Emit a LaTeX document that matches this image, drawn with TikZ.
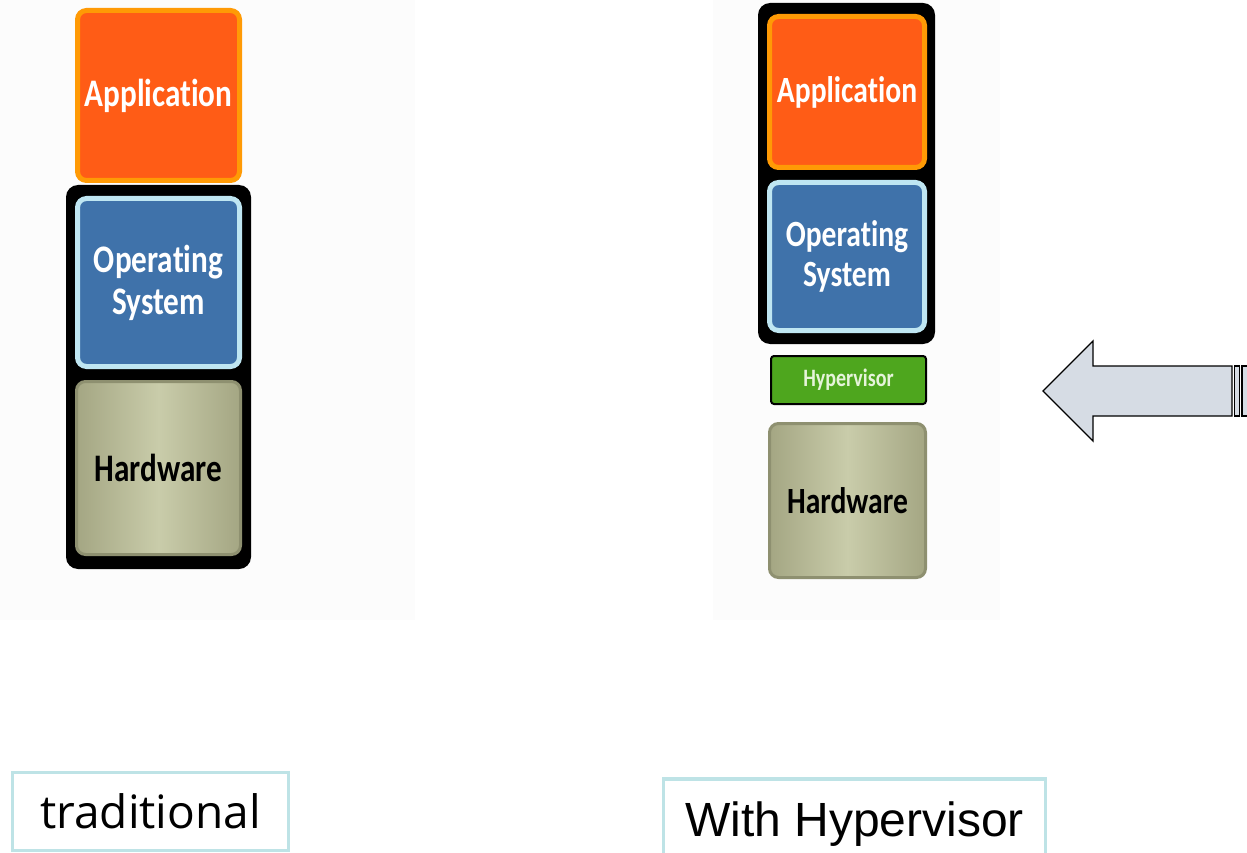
\documentclass[tikz,border=0pt]{standalone}
\usepackage{fontspec}
\newfontfamily\boxfont[FakeStretch=0.8, Ligatures=NoCommon]{Carlito}
\newfontfamily\tradfont{Open Sans}
\newfontfamily\arialfont{Liberation Sans}
\definecolor{appfill}{HTML}{FF5C16}
\definecolor{appedge}{HTML}{FF9A05}
\definecolor{osfill}{HTML}{3F72AA}
\definecolor{osedge}{HTML}{BFE6F2}
\definecolor{hwedge}{HTML}{8E9070}
\definecolor{hwdark}{HTML}{A4A683}
\definecolor{hwlight}{HTML}{C9CCAA}
\definecolor{hypfill}{HTML}{4EA61E}
\definecolor{hyptext}{HTML}{E6F4DA}
\definecolor{arrowfill}{HTML}{D6DCE4}
\definecolor{labeledge}{HTML}{BEE3E6}
\definecolor{faint}{HTML}{FCFCFC}
\tikzset{
  frame/.style={fill=black, rounded corners=12pt, inner sep=0pt},
  bigtext/.style={font=\boxfont\bfseries\fontsize{39}{42}\selectfont},
  smalltext/.style={font=\boxfont\bfseries\fontsize{37}{40}\selectfont},
  appbox/.style={fill=appfill, draw=appedge, line width=5pt, rounded corners=9pt,
    text=white, align=center, inner sep=0pt},
  osbox/.style={fill=osfill, draw=osedge, line width=5pt, rounded corners=9pt,
    text=white, align=center, inner sep=0pt},
  hwbox/.style={left color=hwdark, right color=hwdark, middle color=hwlight,
    draw=hwedge, line width=3pt, rounded corners=9pt,
    text=black, align=center, inner sep=0pt},
  hypbox/.style={fill=hypfill, draw=black, line width=2pt, rounded corners=3pt,
    font=\boxfont\bfseries\fontsize{25}{28}\selectfont, text=hyptext, inner sep=0pt},
  labelbox/.style={draw=labeledge, line width=3.5pt, fill=white, inner sep=0pt},
  bigarrow/.style={fill=arrowfill, draw=black, line width=1.3pt, line join=miter}
}
\begin{document}
\begin{tikzpicture}[x=1pt,y=-1pt]
\useasboundingbox (0,0) rectangle (1247,853);
\fill[white] (0,0) rectangle (1247,853);
% faint backgrounds
\fill[faint] (0,0) rectangle (415,620);
\fill[faint] (713,0) rectangle (1000,620);

% ---------- traditional stack ----------
\node[frame, minimum width=185pt, minimum height=384pt] (frameL) at (158.5,377) {};
\node[appbox, bigtext, minimum width=162pt, minimum height=170pt] (appL) at (158.5,95.5)
  {Application};
\node[osbox, bigtext, minimum width=162pt, minimum height=168pt] (osL) at (158.5,282.5)
  {Operating\\System};
\node[hwbox, bigtext, minimum width=164pt, minimum height=173pt] (hwL) at (158.5,468)
  {Hardware};

% ---------- hypervisor stack ----------
\node[frame, minimum width=177pt, minimum height=341pt] (frameR) at (846.5,173.5) {};
\node[appbox, smalltext, minimum width=155pt, minimum height=151pt] (appR) at (847,92)
  {Application};
\node[osbox, smalltext, minimum width=155pt, minimum height=148pt] (osR) at (847,256.5)
  {Operating\\System};
\node[hypbox, minimum width=155pt, minimum height=48pt] (hyp) at (848.5,380) {Hypervisor};
\node[hwbox, smalltext, minimum width=156pt, minimum height=154pt] (hwR) at (847.5,500.5)
  {Hardware};

% ---------- big arrow ----------
\draw[bigarrow] (1043,391) -- (1093,341) -- (1093,366) -- (1232,366) -- (1232,416)
  -- (1093,416) -- (1093,441) -- cycle;
\draw[bigarrow] (1234.5,366) rectangle (1239.5,416);
\draw[bigarrow] (1242,366) rectangle (1260,416);

% ---------- labels ----------
\node[labelbox, minimum width=276pt, minimum height=78pt] (tradlabel) at (150.5,811.5)
  {\tradfont\fontsize{46}{50}\selectfont traditional};
\node[labelbox, minimum width=382pt, minimum height=90pt] (hyplabel) at (854.5,824)
  {\raisebox{-6pt}{\arialfont\fontsize{48}{52}\selectfont With Hypervisor}};
\end{tikzpicture}
\end{document}
